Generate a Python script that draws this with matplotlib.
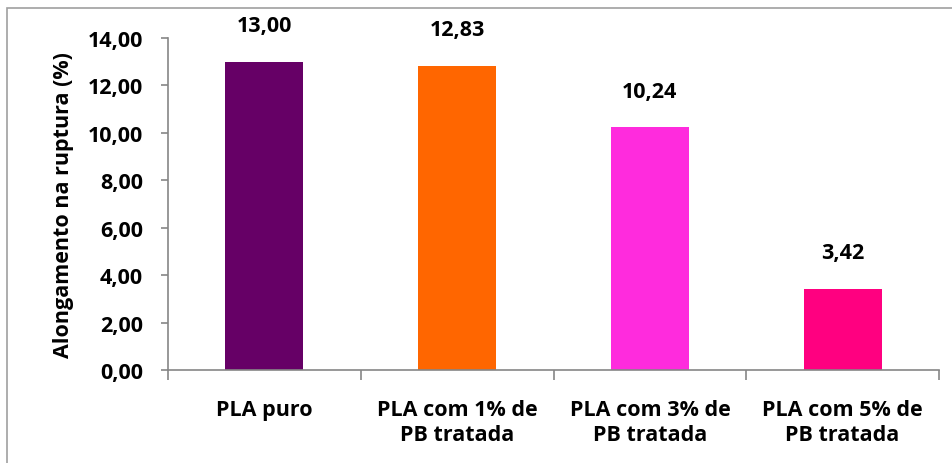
import matplotlib.pyplot as plt
from matplotlib.patches import Rectangle
from matplotlib.ticker import FuncFormatter

categorias = ["PLA puro", "PLA com 1% de\nPB tratada", "PLA com 3% de\nPB tratada", "PLA com 5% de\nPB tratada"]
alongamento = [13.00, 12.83, 10.24, 3.42]
cores = ["#660066", "#FF6600", "#FF2BDD", "#FF0080"]

plt.rcParams['font.family'] = ['Open Sans', 'DejaVu Sans']
plt.rcParams['font.weight'] = 'bold'
fs = 15.5

fig = plt.figure(figsize=(9.53, 4.64), dpi=100)
ax = fig.add_axes([168/953, 1-371/464, (939-168)/953, (371-39)/464])

# moldura do gráfico
fig.patches.append(Rectangle((7/953, -0.01), 1.0, 1-9/464+0.01, transform=fig.transFigure,
                             fill=False, edgecolor="#A0A0A0", linewidth=1.2))

x = range(len(categorias))
ax.bar(x, alongamento, width=0.405, color=cores)

for i, v in enumerate(alongamento):
    ax.annotate(f"{v:.2f}".replace(".", ","), (i, v), xytext=(0, 26), textcoords="offset points",
                ha="center", va="center", fontsize=fs, fontweight="bold")

ax.set_xlim(-0.5, len(categorias) - 0.5)
ax.set_ylim(0, 14)
ax.set_yticks(range(0, 15, 2))
ax.yaxis.set_major_formatter(FuncFormatter(lambda v, p: f"{v:.2f}".replace(".", ",")))
ax.set_xticks([i - 0.5 for i in range(len(categorias) + 1)], minor=False)
ax.set_xticklabels([])
ax.set_xticks(list(x), minor=True)
ax.set_xticklabels(categorias, minor=True, linespacing=1.25)
ax.tick_params(axis="x", which="minor", length=0, pad=21, labelsize=fs)
ax.tick_params(axis="x", which="major", length=7, color="#868686", width=1.2)
ax.tick_params(axis="y", length=5, color="#868686", width=1.2, labelsize=fs, pad=13)
for t in ax.get_xticklabels(minor=True) + ax.get_yticklabels():
    t.set_fontweight("bold")

for s in ["top", "right"]:
    ax.spines[s].set_visible(False)
for s in ["left", "bottom"]:
    ax.spines[s].set_color("#868686")
    ax.spines[s].set_linewidth(1.2)

ax.set_ylabel("Alongamento na ruptura (%)", fontsize=fs, fontweight="bold", labelpad=10)

fig.savefig("out.png", dpi=100)
